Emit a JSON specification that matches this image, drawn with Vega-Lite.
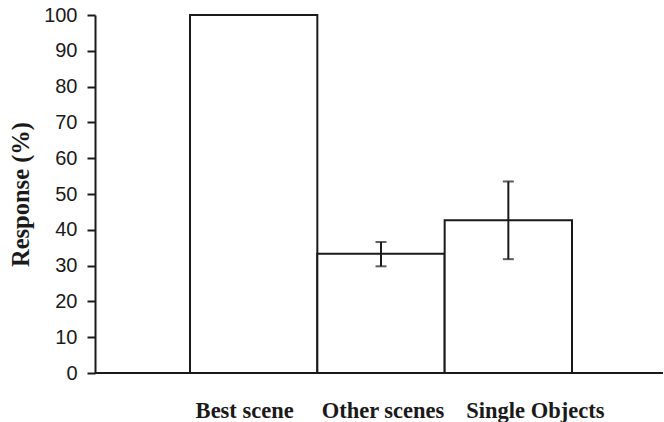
{
  "$schema": "https://vega.github.io/schema/vega-lite/v6.json",
  "autosize": {"type": "none"},
  "width": 568,
  "height": 358,
  "padding": {"left": 95, "top": 15, "right": 1, "bottom": 49},
  "background": "white",
  "config": {
    "view": {"stroke": null},
    "axisX": {"domain": false, "ticks": false, "labelAngle": 0,
      "labelFont": "Liberation Serif", "labelFontWeight": "bold", "labelFontSize": 22.5,
      "labelColor": "#1a1a1a", "labelPadding": 26, "grid": false},
    "axisY": {"grid": false, "tickCount": 10, "domainColor": "#1a1a1a", "domainWidth": 2,
      "tickColor": "#1a1a1a", "tickWidth": 2, "tickSize": 8,
      "labelFont": "Liberation Sans", "labelFontSize": 20, "labelColor": "#1a1a1a",
      "labelPadding": 10, "labelOverlap": false,
      "titleFont": "Liberation Serif", "titleFontWeight": "bold", "titleFontSize": 24.5,
      "titleColor": "#1a1a1a", "titlePadding": 10}
  },
  "data": {"values": [
    {"condition": "Best scene", "response": 100, "lower": null, "upper": null},
    {"condition": "Other scenes", "response": 33.3, "lower": 29.8, "upper": 36.6},
    {"condition": "Single Objects", "response": 42.7, "lower": 31.8, "upper": 53.5}
  ]},
  "encoding": {
    "x": {
      "field": "condition", "type": "nominal", "sort": null,
      "scale": {"range": [95, 477], "paddingInner": 0, "paddingOuter": 0},
      "axis": {"title": null,
        "labelOffset": {"expr": "datum.value == 'Best scene' ? -9 : datum.value == 'Other scenes' ? 2 : 27"}}
    }
  },
  "layer": [
    {
      "mark": {"type": "bar", "fill": "white", "stroke": "#1a1a1a", "strokeWidth": 2},
      "encoding": {
        "y": {"field": "response", "type": "quantitative",
          "scale": {"domain": [0, 100], "nice": false},
          "axis": {"title": "Response (%)"}
        }
      }
    },
    {
      "mark": {"type": "rule", "color": "#1a1a1a", "strokeWidth": 2},
      "encoding": {"y": {"field": "lower", "type": "quantitative"}, "y2": {"field": "upper"}}
    },
    {
      "mark": {"type": "tick", "color": "#1a1a1a", "thickness": 2, "size": 11, "orient": "horizontal"},
      "encoding": {"y": {"field": "lower", "type": "quantitative"}}
    },
    {
      "mark": {"type": "tick", "color": "#1a1a1a", "thickness": 2, "size": 11, "orient": "horizontal"},
      "encoding": {"y": {"field": "upper", "type": "quantitative"}}
    },
    {
      "data": {"values": [{"base": 0}]},
      "mark": {"type": "rule", "color": "#1a1a1a", "strokeWidth": 2},
      "encoding": {"x": null, "y": {"field": "base", "type": "quantitative"}}
    }
  ]
}
